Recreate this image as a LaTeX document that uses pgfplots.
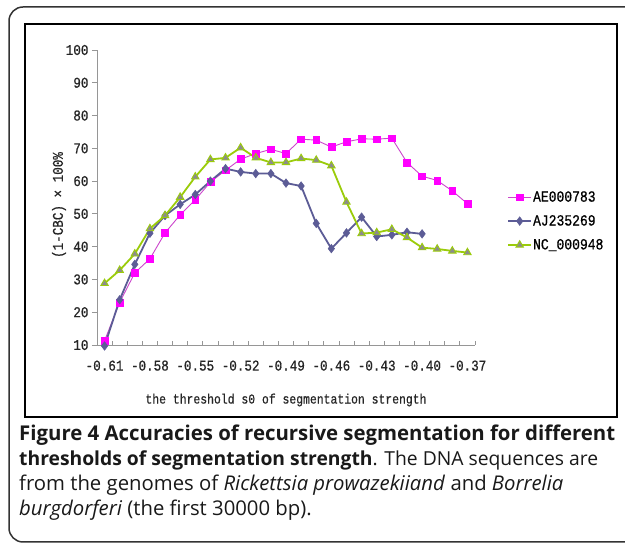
\documentclass[border=0pt]{standalone}
\usepackage{fontspec}
\usepackage{pgfplots}
\usepackage{pgfplotstable}
\pgfplotsset{compat=1.18}
\setmainfont{Liberation Mono}
\newfontfamily\capfont{Open Sans}
\newfontfamily\chartfont[FakeStretch=0.84,FakeBold=0.6]{Liberation Mono}

\definecolor{magline}{RGB}{204,70,204}
\definecolor{magmark}{RGB}{255,0,255}
\definecolor{blueline}{RGB}{92,92,150}
\definecolor{greenline}{RGB}{155,204,10}
\definecolor{greenmark}{RGB}{140,140,140}
\definecolor{axgray}{RGB}{150,150,150}

\pgfplotstableread{
i mag blue green
0 11.3 9.7 28.8
1 23.0 23.8 32.8
2 32.0 34.6 37.8
3 36.3 44.1 45.5
4 44.2 49.5 49.5
5 49.7 52.9 55.1
6 54.3 55.9 61.3
7 59.7 60.0 66.6
8 63.3 63.8 67.1
9 66.7 62.8 70.2
10 68.4 62.3 67.1
11 69.7 62.3 65.7
12 68.4 59.4 65.7
13 72.8 58.5 66.9
14 72.5 47.1 66.4
15 70.4 39.4 64.7
16 72.0 44.2 53.6
17 72.9 49.0 44.0
18 72.8 43.1 44.3
19 73.1 43.6 45.3
20 65.7 44.4 42.8
21 61.5 43.9 39.7
22 60.2 nan 39.3
23 57.0 nan 38.7
24 53.1 nan 38.2
}\data

\begin{document}
\begin{tikzpicture}
\useasboundingbox (0,0) rectangle (625pt,544pt);
\fill[white] (0,0) rectangle (625pt,544pt);
\draw[line width=1.5pt, black!80, rounded corners=14pt] (9pt,537pt) rectangle (700pt,2pt);
\draw[line width=2.5pt] (25pt,520pt) rectangle (617pt,127pt);
\begin{axis}[
  at={(97pt,199pt)}, anchor=south west,
  scale only axis, width=378pt, height=295pt,
  xmin=-0.5, xmax=24.5, ymin=10, ymax=100,
  clip=false,
  axis x line*=bottom, axis y line*=left,
  axis line style={draw=axgray, line width=0.8pt},
  tick align=outside,
  major tick length=5pt, minor tick length=4pt,
  tick style={draw=axgray, line width=0.8pt},
  ytick={10,20,...,100},
  xtick={0,3,...,24},
  xticklabels={-0.61,-0.58,-0.55,-0.52,-0.49,-0.46,-0.43,-0.40,-0.37},
  major x tick style={draw=none},
  minor xtick={-0.5,0.5,...,24.5},
  minor x tick style={draw=axgray, yshift=4pt},
  /pgf/number format/assume math mode=true,
  yticklabel style={font=\chartfont\fontsize{15}{15}\selectfont, text=black!85},
  xticklabel style={font=\chartfont\fontsize{15}{15}\selectfont, text=black!85, yshift=-7pt},
  legend style={at={(1.077,0.42)}, anchor=west, draw=none, fill=none,
    font=\chartfont\fontsize{15.5}{15.5}\selectfont, row sep=10pt,
    nodes={inner sep=1pt}},
  legend cell align=left,
  legend image code/.code={\draw[mark repeat=2,mark phase=2] plot coordinates {(0pt,0pt) (11.5pt,0pt) (23pt,0pt)};},
]
\addplot[color=magline, line width=0.9pt, mark=square*, mark size=3.4pt,
  mark options={fill=magmark, draw=magmark, line width=0.5pt}] table[x=i,y=mag]{\data};
\addlegendentry{AE000783}
\addplot[color=blueline, line width=1.8pt, mark=diamond*, mark size=4.3pt,
  mark options={fill=blueline, draw=blueline, line width=0.5pt}] table[x=i,y=blue]{\data};
\addlegendentry{AJ235269}
\addplot[color=greenline, line width=1.8pt, mark=triangle*, mark size=4.3pt,
  mark options={fill=greenmark, draw=greenline, line width=0.9pt}] table[x=i,y=green]{\data};
\addlegendentry{NC\_000948}
\end{axis}
\node[rotate=90, font=\chartfont\fontsize{15}{15}\selectfont, text=black!85] at (59pt,339pt) {(1-CBC)~×~100\%};
\node[font=\chartfont\fontsize{13.6}{13.6}\selectfont, text=black!85] at (286pt,144pt) {the threshold s0 of segmentation strength};
\begin{scope}[every node/.style={anchor=base west, inner sep=0pt, font=\capfont\fontsize{20.3}{20.3}\selectfont, text=black!90}]
\node at (19pt,103pt) {\resizebox{596pt}{!}{\bfseries Figure 4 Accuracies of recursive segmentation for different}};
\node at (19pt,78pt) {\resizebox{579pt}{!}{{\bfseries thresholds of segmentation strength}. The DNA sequences are}};
\node at (19pt,53pt) {from the genomes of \textit{Rickettsia prowazekiiand} and \textit{Borrelia}};
\node at (19pt,28pt) {\textit{burgdorferi} (the first 30000 bp).};
\end{scope}
\end{tikzpicture}
\end{document}
